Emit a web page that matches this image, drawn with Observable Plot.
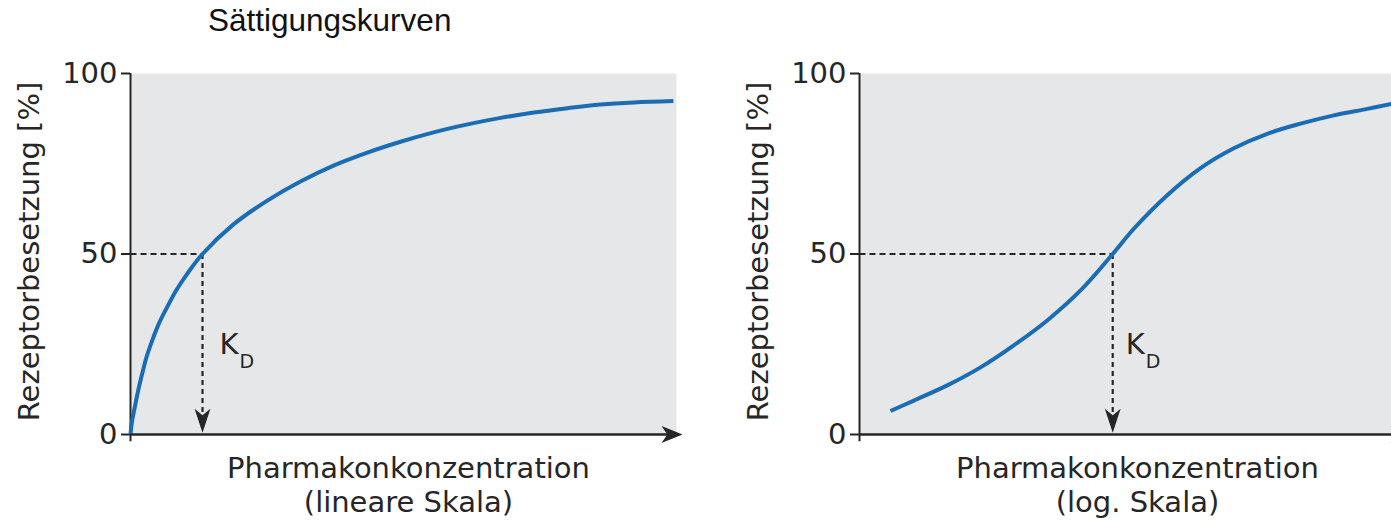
<!DOCTYPE html>
<html>
<head>
<meta charset="utf-8">
<script src="https://cdn.jsdelivr.net/npm/d3@7"></script>
<script src="https://cdn.jsdelivr.net/npm/@observablehq/plot@0.6"></script>
<style>
  html, body { margin: 0; padding: 0; background: #fff; overflow: hidden; }
  #root { position: relative; width: 1391px; height: 524px; overflow: hidden; }
  #title { position: absolute; left: 208px; top: 5px; font: 31.5px "Liberation Sans", Arial, sans-serif; line-height: 31.5px; color: #111; white-space: nowrap; }
  .panel { position: absolute; top: 45px; }
</style>
</head>
<body>
<div id="root">
  <div id="title"></div>
  <div class="panel" id="left" style="left:0px"></div>
  <div class="panel" id="right" style="left:729px"></div>
</div>
<script>
// ---- data ----
const titleText = "Sättigungskurven";
const yLabel = "Rezeptorbesetzung [%]";
const xLabel = "Pharmakonkonzentration";
const xSubLabels = ["(lineare Skala)", "(log. Skala)"];
const yTicks = [0, 50, 100];
const kdLabel = "K";
const kdSub = "D";
const kd = 1; // concentration at 50 % occupancy (relative units)

// left panel: linear concentration axis (units of K_D)
const linConc = [0, 0.02, 0.06, 0.107, 0.162, 0.222, 0.301, 0.394, 0.509, 0.634, 0.787, 1.0, 1.43, 1.90, 2.36, 2.82, 3.29, 3.75, 4.21, 4.68, 5.14, 5.60, 6.07, 6.53, 6.99, 7.54];
const linOcc  = [0, 3.5, 7.6, 12.2, 16.8, 21.4, 26.0, 30.7, 35.3, 39.9, 44.5, 50, 58.2, 64.8, 70.1, 74.5, 78.1, 81.1, 83.7, 85.9, 87.7, 89.2, 90.4, 91.4, 92.0, 92.4];
const linDomain = [0, 7.583];
const linTip = 7.667;

// right panel: logarithmic concentration axis (units of K_D)
const logConc = [0.0778, 0.1018, 0.1493, 0.2189, 0.3209, 0.4711, 0.6908, 1.0, 1.274, 1.871, 2.743, 4.021, 5.902, 8.651, 12.69, 18.62, 24.61];
const logOcc  = [6.5, 9.4, 13.6, 18.6, 24.7, 31.6, 39.9, 50, 57.0, 66.3, 73.8, 79.3, 83.3, 86.1, 88.4, 90.2, 91.6];
const logDomain = [0.0545, 28.9];
const logTip = 30.97;

// ---- styling ----
const FONT = "'DejaVu Sans', Roboto, sans-serif";
const INK = "#262626";
const BLUE = "#1a6db5";
const BG = "#e6e7e9";

function arrowSymbol(halfWidth, notch) {
  return {
    draw(ctx, size) {
      const r = Math.sqrt(size / Math.PI);
      ctx.moveTo(0, 0);
      ctx.lineTo(-2 * r, -halfWidth * r);
      ctx.lineTo(-notch * r, 0);
      ctx.lineTo(-2 * r, halfWidth * r);
      ctx.closePath();
    }
  };
}
const arrowH = arrowSymbol(0.82, 1.45);
const arrowV = arrowSymbol(0.66, 1.45);

function panel({conc, occ, type, domain, tip, sub, kDx, dDx}) {
  const data = conc.map((c, i) => ({c, o: occ[i]}));
  const x0 = domain[0];
  return Plot.plot({
    width: 700,
    height: 479,
    marginLeft: 130,
    marginRight: 24,
    marginTop: 28,
    marginBottom: 90,
    x: {type, domain, axis: null},
    y: {domain: [0, 100], axis: null},
    style: {fontFamily: FONT, color: INK, background: "transparent", overflow: "visible", maxWidth: "none"},
    marks: [
      Plot.frame({fill: BG, stroke: "none"}),
      Plot.axisY(yTicks, {tickSize: 9, tickPadding: 4, fontSize: 29, strokeWidth: 2, label: null}),
      Plot.ruleX([x0], {y1: -2, y2: 100, strokeWidth: 2, stroke: INK}),
      Plot.link([{x1: x0, x2: kd, y: 50}], {x1: "x1", x2: "x2", y1: "y", y2: "y", stroke: INK, strokeWidth: 2.2, strokeDasharray: "6,4"}),
      Plot.link([{x: kd, y1: 50, y2: 5}], {x1: "x", x2: "x", y1: "y1", y2: "y2", stroke: INK, strokeWidth: 2.2, strokeDasharray: "5,4"}),
      Plot.line(data, {x: "c", y: "o", stroke: BLUE, strokeWidth: 4, curve: "catmull-rom", strokeLinecap: "butt"}),
      Plot.link([{x1: x0, x2: tip - (tip - x0) * 0.01, y: 0}], {x1: "x1", x2: "x2", y1: "y", y2: "y", stroke: INK, strokeWidth: 2.5}),
      Plot.dot([{x: tip, y: 0}], {x: "x", y: "y", r: 10.5, symbol: arrowH, fill: INK, stroke: "none"}),
      Plot.dot([{x: kd, y: 0.5}], {x: "x", y: "y", r: 12, symbol: arrowV, rotate: 90, fill: INK, stroke: "none"}),
      Plot.text([kdLabel], {x: () => kd, y: () => 50, text: d => d, dx: kDx, dy: 100, textAnchor: "start", lineAnchor: "bottom", fontSize: 29, fill: INK}),
      Plot.text([kdSub], {x: () => kd, y: () => 50, text: d => d, dx: dDx, dy: 113.5, textAnchor: "start", lineAnchor: "bottom", fontSize: 19, fill: INK}),
      Plot.text([yLabel], {text: d => d, frameAnchor: "left", rotate: -90, dx: -92, dy: -2.5, textAnchor: "middle", lineAnchor: "bottom", fontSize: 29, fill: INK}),
      Plot.text([xLabel + "\n" + sub], {text: d => d, frameAnchor: "bottom", dx: 5, dy: 77.5, lineAnchor: "bottom", lineHeight: 1.17, fontSize: 29, fill: INK})
    ]
  });
}

document.getElementById("title").textContent = titleText;
document.getElementById("left").appendChild(panel({
  conc: linConc, occ: linOcc, type: "linear", domain: linDomain, tip: linTip, sub: xSubLabels[0], kDx: 17, dDx: 37
}));
document.getElementById("right").appendChild(panel({
  conc: logConc, occ: logOcc, type: "log", domain: logDomain, tip: logTip, sub: xSubLabels[1], kDx: 13, dDx: 33
}));
</script>
</body>
</html>
